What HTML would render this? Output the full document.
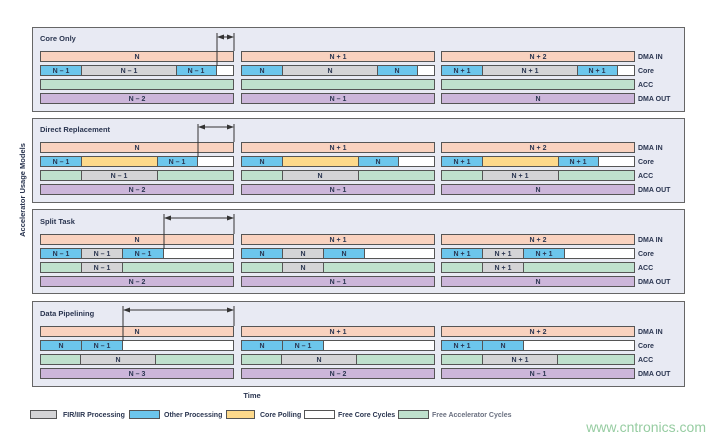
<!DOCTYPE html>
<html><head><meta charset="utf-8"><style>
body{margin:0;background:#fff;}
svg{display:block;font-family:"Liberation Sans",sans-serif;}
.t{font-size:7px;font-weight:bold;fill:#2a3550;text-anchor:middle;}
.l{font-size:7px;font-weight:bold;fill:#2a3550;}
.h{font-size:7.5px;font-weight:bold;fill:#2a3550;}
rect.s{stroke:#555;stroke-width:1;}
</style></head><body>
<svg width="706" height="437" viewBox="0 0 706 437" xmlns="http://www.w3.org/2000/svg">
<defs>
<marker id="ah" markerWidth="7" markerHeight="6" refX="6" refY="3" orient="auto-start-reverse" markerUnits="userSpaceOnUse"><path d="M0,0.5 L7,3 L0,5.5z" fill="#333"/></marker>
</defs>
<text transform="translate(25,190) rotate(-90)" class="h" text-anchor="middle">Accelerator Usage Models</text>

<!-- Panel 1 -->
<g transform="translate(0,0)">
<rect x="32.5" y="27.5" width="652" height="84" fill="#e8eaf3" stroke="#666"/>
<text x="40" y="41" class="h">Core Only</text>
<rect class="s" x="40.5" y="51.5" width="193" height="10" fill="#f9d2bf"/><text class="t" x="137" y="59">N</text>
<rect class="s" x="241.5" y="51.5" width="193" height="10" fill="#f9d2bf"/><text class="t" x="338" y="59">N + 1</text>
<rect class="s" x="441.5" y="51.5" width="193" height="10" fill="#f9d2bf"/><text class="t" x="538" y="59">N + 2</text>
<text class="l" x="638" y="59">DMA IN</text>

<rect class="s" x="40.5" y="65.5" width="41" height="10" fill="#6cc6ec"/><text class="t" x="61" y="73">N – 1</text>
<rect class="s" x="81.5" y="65.5" width="95" height="10" fill="#d4d4d6"/><text class="t" x="129" y="73">N – 1</text>
<rect class="s" x="176.5" y="65.5" width="40" height="10" fill="#6cc6ec"/><text class="t" x="196" y="73">N – 1</text>
<rect class="s" x="216.5" y="65.5" width="17" height="10" fill="#fff"/>
<rect class="s" x="241.5" y="65.5" width="41" height="10" fill="#6cc6ec"/><text class="t" x="262" y="73">N</text>
<rect class="s" x="282.5" y="65.5" width="95" height="10" fill="#d4d4d6"/><text class="t" x="330" y="73">N</text>
<rect class="s" x="377.5" y="65.5" width="40" height="10" fill="#6cc6ec"/><text class="t" x="397" y="73">N</text>
<rect class="s" x="417.5" y="65.5" width="17" height="10" fill="#fff"/>
<rect class="s" x="441.5" y="65.5" width="41" height="10" fill="#6cc6ec"/><text class="t" x="462" y="73">N + 1</text>
<rect class="s" x="482.5" y="65.5" width="95" height="10" fill="#d4d4d6"/><text class="t" x="530" y="73">N + 1</text>
<rect class="s" x="577.5" y="65.5" width="40" height="10" fill="#6cc6ec"/><text class="t" x="597" y="73">N + 1</text>
<rect class="s" x="617.5" y="65.5" width="17" height="10" fill="#fff"/>
<text class="l" x="638" y="73">Core</text>

<rect class="s" x="40.5" y="79.5" width="193" height="10" fill="#bfe1cd"/>
<rect class="s" x="241.5" y="79.5" width="193" height="10" fill="#bfe1cd"/>
<rect class="s" x="441.5" y="79.5" width="193" height="10" fill="#bfe1cd"/>
<text class="l" x="638" y="87">ACC</text>

<rect class="s" x="40.5" y="93.5" width="193" height="10" fill="#ccb6da"/><text class="t" x="137" y="101">N – 2</text>
<rect class="s" x="241.5" y="93.5" width="193" height="10" fill="#ccb6da"/><text class="t" x="338" y="101">N – 1</text>
<rect class="s" x="441.5" y="93.5" width="193" height="10" fill="#ccb6da"/><text class="t" x="538" y="101">N</text>
<text class="l" x="638" y="101">DMA OUT</text>
<line x1="217" y1="33" x2="217" y2="66" stroke="#333"/><line x1="234" y1="33" x2="234" y2="51" stroke="#333"/>
<line x1="218" y1="37" x2="233" y2="37" stroke="#333" marker-end="url(#ah)" marker-start="url(#ah)"/>
</g>

<!-- Panel 2 -->
<g transform="translate(0,91)">
<rect x="32.5" y="27.5" width="652" height="84" fill="#e8eaf3" stroke="#666"/>
<text x="40" y="41" class="h">Direct Replacement</text>
<rect class="s" x="40.5" y="51.5" width="193" height="10" fill="#f9d2bf"/><text class="t" x="137" y="59">N</text>
<rect class="s" x="241.5" y="51.5" width="193" height="10" fill="#f9d2bf"/><text class="t" x="338" y="59">N + 1</text>
<rect class="s" x="441.5" y="51.5" width="193" height="10" fill="#f9d2bf"/><text class="t" x="538" y="59">N + 2</text>
<text class="l" x="638" y="59">DMA IN</text>

<rect class="s" x="40.5" y="65.5" width="41" height="10" fill="#6cc6ec"/><text class="t" x="61" y="73">N – 1</text>
<rect class="s" x="81.5" y="65.5" width="76" height="10" fill="#fdd98b"/>
<rect class="s" x="157.5" y="65.5" width="40" height="10" fill="#6cc6ec"/><text class="t" x="177" y="73">N – 1</text>
<rect class="s" x="197.5" y="65.5" width="36" height="10" fill="#fff"/>
<rect class="s" x="241.5" y="65.5" width="41" height="10" fill="#6cc6ec"/><text class="t" x="262" y="73">N</text>
<rect class="s" x="282.5" y="65.5" width="76" height="10" fill="#fdd98b"/>
<rect class="s" x="358.5" y="65.5" width="40" height="10" fill="#6cc6ec"/><text class="t" x="378" y="73">N</text>
<rect class="s" x="398.5" y="65.5" width="36" height="10" fill="#fff"/>
<rect class="s" x="441.5" y="65.5" width="41" height="10" fill="#6cc6ec"/><text class="t" x="462" y="73">N + 1</text>
<rect class="s" x="482.5" y="65.5" width="76" height="10" fill="#fdd98b"/>
<rect class="s" x="558.5" y="65.5" width="40" height="10" fill="#6cc6ec"/><text class="t" x="578" y="73">N + 1</text>
<rect class="s" x="598.5" y="65.5" width="36" height="10" fill="#fff"/>
<text class="l" x="638" y="73">Core</text>

<rect class="s" x="40.5" y="79.5" width="193" height="10" fill="#bfe1cd"/>
<rect class="s" x="81.5" y="79.5" width="76" height="10" fill="#d4d4d6"/><text class="t" x="119" y="87">N – 1</text>
<rect class="s" x="241.5" y="79.5" width="193" height="10" fill="#bfe1cd"/>
<rect class="s" x="282.5" y="79.5" width="76" height="10" fill="#d4d4d6"/><text class="t" x="320" y="87">N</text>
<rect class="s" x="441.5" y="79.5" width="193" height="10" fill="#bfe1cd"/>
<rect class="s" x="482.5" y="79.5" width="76" height="10" fill="#d4d4d6"/><text class="t" x="520" y="87">N + 1</text>
<text class="l" x="638" y="87">ACC</text>

<rect class="s" x="40.5" y="93.5" width="193" height="10" fill="#ccb6da"/><text class="t" x="137" y="101">N – 2</text>
<rect class="s" x="241.5" y="93.5" width="193" height="10" fill="#ccb6da"/><text class="t" x="338" y="101">N – 1</text>
<rect class="s" x="441.5" y="93.5" width="193" height="10" fill="#ccb6da"/><text class="t" x="538" y="101">N</text>
<text class="l" x="638" y="101">DMA OUT</text>
<line x1="198" y1="33" x2="198" y2="66" stroke="#333"/><line x1="234" y1="33" x2="234" y2="51" stroke="#333"/>
<line x1="199" y1="36" x2="233" y2="36" stroke="#333" marker-end="url(#ah)" marker-start="url(#ah)"/>
</g>

<!-- Panel 3 -->
<g transform="translate(0,182)">
<rect x="32.5" y="27.5" width="652" height="84" fill="#e8eaf3" stroke="#666"/>
<text x="40" y="42" class="h">Split Task</text>
<rect class="s" x="40.5" y="52.5" width="193" height="10" fill="#f9d2bf"/><text class="t" x="137" y="60">N</text>
<rect class="s" x="241.5" y="52.5" width="193" height="10" fill="#f9d2bf"/><text class="t" x="338" y="60">N + 1</text>
<rect class="s" x="441.5" y="52.5" width="193" height="10" fill="#f9d2bf"/><text class="t" x="538" y="60">N + 2</text>
<text class="l" x="638" y="60">DMA IN</text>

<rect class="s" x="40.5" y="66.5" width="41" height="10" fill="#6cc6ec"/><text class="t" x="61" y="74">N – 1</text>
<rect class="s" x="81.5" y="66.5" width="41" height="10" fill="#d4d4d6"/><text class="t" x="102" y="74">N – 1</text>
<rect class="s" x="122.5" y="66.5" width="41" height="10" fill="#6cc6ec"/><text class="t" x="143" y="74">N – 1</text>
<rect class="s" x="163.5" y="66.5" width="70" height="10" fill="#fff"/>
<rect class="s" x="241.5" y="66.5" width="41" height="10" fill="#6cc6ec"/><text class="t" x="262" y="74">N</text>
<rect class="s" x="282.5" y="66.5" width="41" height="10" fill="#d4d4d6"/><text class="t" x="303" y="74">N</text>
<rect class="s" x="323.5" y="66.5" width="41" height="10" fill="#6cc6ec"/><text class="t" x="344" y="74">N</text>
<rect class="s" x="364.5" y="66.5" width="70" height="10" fill="#fff"/>
<rect class="s" x="441.5" y="66.5" width="41" height="10" fill="#6cc6ec"/><text class="t" x="462" y="74">N + 1</text>
<rect class="s" x="482.5" y="66.5" width="41" height="10" fill="#d4d4d6"/><text class="t" x="503" y="74">N + 1</text>
<rect class="s" x="523.5" y="66.5" width="41" height="10" fill="#6cc6ec"/><text class="t" x="544" y="74">N + 1</text>
<rect class="s" x="564.5" y="66.5" width="70" height="10" fill="#fff"/>
<text class="l" x="638" y="74">Core</text>

<rect class="s" x="40.5" y="80.5" width="193" height="10" fill="#bfe1cd"/>
<rect class="s" x="81.5" y="80.5" width="41" height="10" fill="#d4d4d6"/><text class="t" x="102" y="88">N – 1</text>
<rect class="s" x="241.5" y="80.5" width="193" height="10" fill="#bfe1cd"/>
<rect class="s" x="282.5" y="80.5" width="41" height="10" fill="#d4d4d6"/><text class="t" x="303" y="88">N</text>
<rect class="s" x="441.5" y="80.5" width="193" height="10" fill="#bfe1cd"/>
<rect class="s" x="482.5" y="80.5" width="41" height="10" fill="#d4d4d6"/><text class="t" x="503" y="88">N + 1</text>
<text class="l" x="638" y="88">ACC</text>

<rect class="s" x="40.5" y="94.5" width="193" height="10" fill="#ccb6da"/><text class="t" x="137" y="102">N – 2</text>
<rect class="s" x="241.5" y="94.5" width="193" height="10" fill="#ccb6da"/><text class="t" x="338" y="102">N – 1</text>
<rect class="s" x="441.5" y="94.5" width="193" height="10" fill="#ccb6da"/><text class="t" x="538" y="102">N</text>
<text class="l" x="638" y="102">DMA OUT</text>
<line x1="164" y1="32" x2="164" y2="67" stroke="#333"/><line x1="234" y1="32" x2="234" y2="52" stroke="#333"/>
<line x1="165" y1="36" x2="233" y2="36" stroke="#333" marker-end="url(#ah)" marker-start="url(#ah)"/>
</g>

<!-- Panel 4 -->
<g transform="translate(0,274)">
<rect x="32.5" y="27.5" width="652" height="85" fill="#e8eaf3" stroke="#666"/>
<text x="40" y="42" class="h">Data Pipelining</text>
<rect class="s" x="40.5" y="52.5" width="193" height="10" fill="#f9d2bf"/><text class="t" x="137" y="60">N</text>
<rect class="s" x="241.5" y="52.5" width="193" height="10" fill="#f9d2bf"/><text class="t" x="338" y="60">N + 1</text>
<rect class="s" x="441.5" y="52.5" width="193" height="10" fill="#f9d2bf"/><text class="t" x="538" y="60">N + 2</text>
<text class="l" x="638" y="60">DMA IN</text>

<rect class="s" x="40.5" y="66.5" width="41" height="10" fill="#6cc6ec"/><text class="t" x="61" y="74">N</text>
<rect class="s" x="81.5" y="66.5" width="41" height="10" fill="#6cc6ec"/><text class="t" x="102" y="74">N – 1</text>
<rect class="s" x="122.5" y="66.5" width="111" height="10" fill="#fff"/>
<rect class="s" x="241.5" y="66.5" width="41" height="10" fill="#6cc6ec"/><text class="t" x="262" y="74">N</text>
<rect class="s" x="282.5" y="66.5" width="41" height="10" fill="#6cc6ec"/><text class="t" x="303" y="74">N – 1</text>
<rect class="s" x="323.5" y="66.5" width="111" height="10" fill="#fff"/>
<rect class="s" x="441.5" y="66.5" width="41" height="10" fill="#6cc6ec"/><text class="t" x="462" y="74">N + 1</text>
<rect class="s" x="482.5" y="66.5" width="41" height="10" fill="#6cc6ec"/><text class="t" x="503" y="74">N</text>
<rect class="s" x="523.5" y="66.5" width="111" height="10" fill="#fff"/>
<text class="l" x="638" y="74">Core</text>

<rect class="s" x="40.5" y="80.5" width="193" height="10" fill="#bfe1cd"/>
<rect class="s" x="80.5" y="80.5" width="75" height="10" fill="#d4d4d6"/><text class="t" x="118" y="88">N</text>
<rect class="s" x="241.5" y="80.5" width="193" height="10" fill="#bfe1cd"/>
<rect class="s" x="281.5" y="80.5" width="75" height="10" fill="#d4d4d6"/><text class="t" x="319" y="88">N</text>
<rect class="s" x="441.5" y="80.5" width="193" height="10" fill="#bfe1cd"/>
<rect class="s" x="482.5" y="80.5" width="75" height="10" fill="#d4d4d6"/><text class="t" x="520" y="88">N + 1</text>
<text class="l" x="638" y="88">ACC</text>

<rect class="s" x="40.5" y="94.5" width="193" height="10" fill="#ccb6da"/><text class="t" x="137" y="102">N – 3</text>
<rect class="s" x="241.5" y="94.5" width="193" height="10" fill="#ccb6da"/><text class="t" x="338" y="102">N – 2</text>
<rect class="s" x="441.5" y="94.5" width="193" height="10" fill="#ccb6da"/><text class="t" x="538" y="102">N – 1</text>
<text class="l" x="638" y="102">DMA OUT</text>
<line x1="123" y1="32" x2="123" y2="67" stroke="#333"/><line x1="234" y1="32" x2="234" y2="52" stroke="#333"/>
<line x1="124" y1="36" x2="233" y2="36" stroke="#333" marker-end="url(#ah)" marker-start="url(#ah)"/>
</g>

<text x="252" y="398" class="h" text-anchor="middle">Time</text>

<!-- Legend -->
<rect class="s" x="30.5" y="410.5" width="26" height="8" fill="#d4d4d6"/><text class="l" x="63" y="417">FIR/IIR Processing</text>
<rect class="s" x="129.5" y="410.5" width="30" height="8" fill="#6cc6ec"/><text class="l" x="164" y="417">Other Processing</text>
<rect class="s" x="226.5" y="410.5" width="28" height="8" fill="#fdd98b"/><text class="l" x="260" y="417">Core Polling</text>
<rect class="s" x="304.5" y="410.5" width="30" height="8" fill="#fff"/><text class="l" x="338" y="417">Free Core Cycles</text>
<rect class="s" x="398.5" y="410.5" width="30" height="8" fill="#bfe1cd"/><text class="l" x="432" y="417" style="fill:#6a7080">Free Accelerator Cycles</text>
<text x="706" y="432" text-anchor="end" style="font-size:14px;fill:#7cc08a;opacity:0.8">www.cntronics.com</text>
</svg>
</body></html>
